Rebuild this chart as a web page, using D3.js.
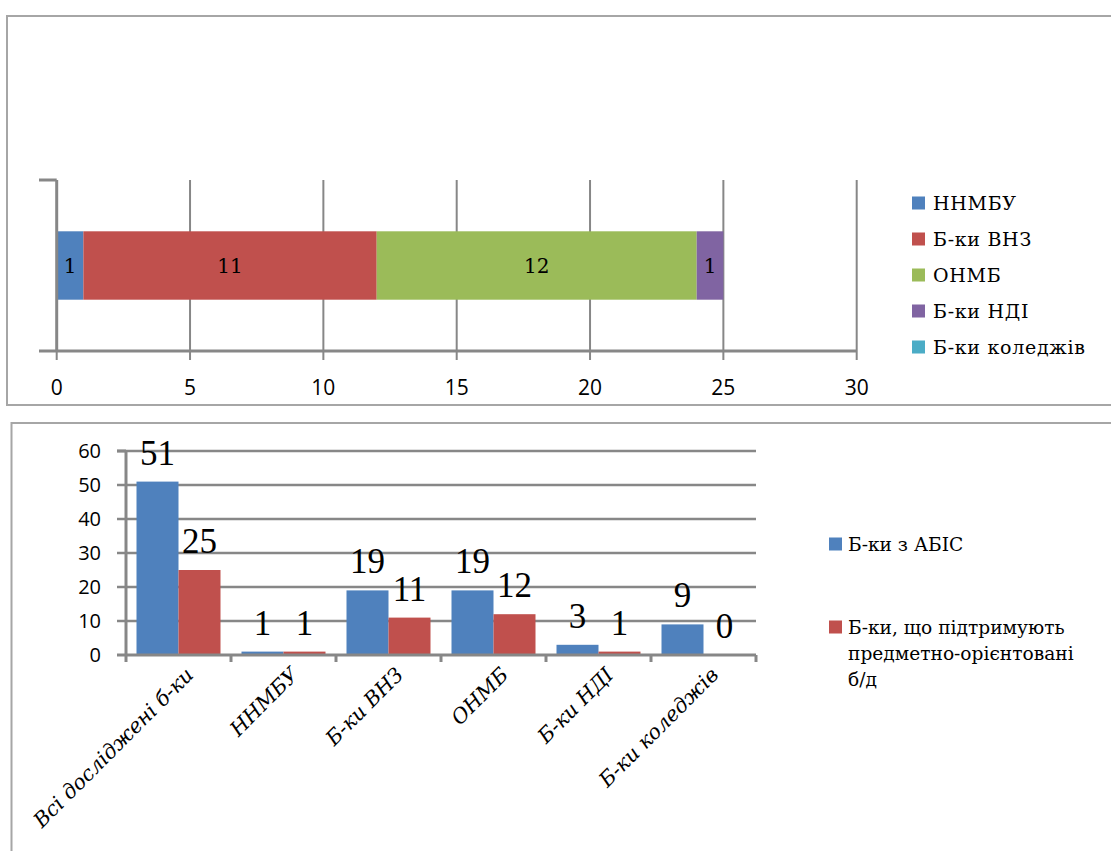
<!DOCTYPE html>
<html><head><meta charset="utf-8">
<script src="https://cdn.jsdelivr.net/npm/d3@7"></script>
<style>body{margin:0;background:#fff}svg{display:block}</style>
</head><body>
<svg id="c" width="1111" height="851"></svg>
<script>
// ---- data ----
const topSeries = ["ННМБУ", "Б-ки ВНЗ", "ОНМБ", "Б-ки НДІ", "Б-ки коледжів"];
const topValues = [1, 11, 12, 1, 0];
const topTicks = [0, 5, 10, 15, 20, 25, 30];

const categories = ["Всі досліджені б-ки", "ННМБУ", "Б-ки ВНЗ", "ОНМБ", "Б-ки НДІ", "Б-ки коледжів"];
const abisValues = [51, 1, 19, 19, 3, 9];
const subjectValues = [25, 1, 11, 12, 1, 0];
const bottomSeries = ["Б-ки з АБІС", "Б-ки, що підтримують предметно-орієнтовані б/д"];
const bottomLegendLines = [["Б-ки з АБІС"], ["Б-ки, що підтримують", "предметно-орієнтовані", "б/д"]];
const yTicks = [0, 10, 20, 30, 40, 50, 60];

// ---- styles ----
const palette = ["#4F81BD", "#C0504D", "#9BBB59", "#8064A2", "#4BACC6"];
const gridCol = "#878787";
const serif = "'DejaVu Serif', serif";
const sans = "'Open Sans', sans-serif";

const svg = d3.select("#c");

// ================= TOP CHART =================
svg.append("rect").attr("x", 7).attr("y", 16).attr("width", 1200).attr("height", 389)
  .attr("fill", "none").attr("stroke", "#a6a6a6").attr("stroke-width", 2);

const xT = d3.scaleLinear().domain([0, 30]).range([56.7, 856.7]);
const yT = d3.scaleBand().domain([""]).range([180, 351]).paddingInner(0.6).paddingOuter(0.3);
const gTop = svg.append("g");

// vertical gridlines + tick marks
gTop.selectAll("line.vg").data(topTicks.filter(d => d > 0)).join("line")
  .attr("x1", d => xT(d)).attr("x2", d => xT(d)).attr("y1", 180).attr("y2", 360)
  .attr("stroke", gridCol).attr("stroke-width", 2);
gTop.append("line").attr("x1", xT(0)).attr("x2", xT(0)).attr("y1", 351).attr("y2", 360)
  .attr("stroke", gridCol).attr("stroke-width", 2);

// stacked bars
const stackData = [Object.fromEntries(topSeries.map((s, i) => [s, topValues[i]]))];
const stacked = d3.stack().keys(topSeries)(stackData);
gTop.selectAll("rect.seg").data(stacked).join("rect")
  .attr("x", d => xT(d[0][0])).attr("width", d => xT(d[0][1]) - xT(d[0][0]))
  .attr("y", yT("")).attr("height", yT.bandwidth())
  .attr("fill", (d, i) => palette[i]);
gTop.selectAll("text.seg").data(stacked.filter(d => d[0][1] - d[0][0] > 0)).join("text")
  .attr("x", d => (xT(d[0][0]) + xT(d[0][1])) / 2).attr("y", yT("") + yT.bandwidth() / 2)
  .attr("dy", "0.36em").attr("text-anchor", "middle")
  .attr("font-family", serif).attr("font-size", 20).attr("fill", "#000")
  .text(d => d[0][1] - d[0][0]);

// axes lines
gTop.append("line").attr("x1", xT(0)).attr("x2", xT(0)).attr("y1", 180).attr("y2", 351)
  .attr("stroke", gridCol).attr("stroke-width", 3);
gTop.append("line").attr("x1", 39).attr("x2", xT(0)).attr("y1", 180).attr("y2", 180)
  .attr("stroke", gridCol).attr("stroke-width", 3);
gTop.append("line").attr("x1", 39).attr("x2", xT(30)).attr("y1", 351).attr("y2", 351)
  .attr("stroke", gridCol).attr("stroke-width", 3);

// x tick labels
gTop.selectAll("text.xt").data(topTicks).join("text")
  .attr("x", d => xT(d)).attr("y", 395).attr("text-anchor", "middle")
  .attr("font-family", sans).attr("font-size", 21).attr("fill", "#000")
  .text(d => d);

// legend
const legT = gTop.selectAll("g.leg").data(topSeries).join("g")
  .attr("transform", (d, i) => `translate(912, ${203 + i * 36})`);
legT.append("rect").attr("x", 0).attr("y", -6.5).attr("width", 13).attr("height", 13)
  .attr("fill", (d, i) => palette[i]);
legT.append("text").attr("x", 21).attr("dy", "0.36em")
  .attr("font-family", serif).attr("font-size", 19).attr("letter-spacing", 0.7).attr("fill", "#000")
  .text(d => d);

// ================= BOTTOM CHART =================
svg.append("rect").attr("x", 11.5).attr("y", 423).attr("width", 1200).attr("height", 500)
  .attr("fill", "none").attr("stroke", "#a6a6a6").attr("stroke-width", 2);

const gB = svg.append("g");
const xB = d3.scaleBand().domain(categories).range([126, 756]).padding(0);
const xSub = d3.scaleBand().domain([0, 1]).range([0, xB.bandwidth()]).paddingInner(0).paddingOuter(0.25);
const yB = d3.scaleLinear().domain([0, 60]).range([655, 451]);

// horizontal gridlines
gB.selectAll("line.hg").data(yTicks.filter(d => d > 0)).join("line")
  .attr("x1", 117).attr("x2", 756).attr("y1", d => yB(d)).attr("y2", d => yB(d))
  .attr("stroke", gridCol).attr("stroke-width", 2.5);

// bars
const seriesVals = [abisValues, subjectValues];
const barData = [];
categories.forEach((c, ci) => seriesVals.forEach((vals, si) => barData.push({ c, si, v: vals[ci] })));
gB.selectAll("rect.bar").data(barData).join("rect")
  .attr("x", d => xB(d.c) + xSub(d.si)).attr("width", xSub.bandwidth())
  .attr("y", d => yB(d.v)).attr("height", d => yB(0) - yB(d.v))
  .attr("fill", d => palette[d.si]);
gB.selectAll("text.val").data(barData).join("text")
  .attr("x", d => xB(d.c) + xSub(d.si) + xSub.bandwidth() / 2)
  .attr("y", d => yB(d.v) - 17).attr("text-anchor", "middle")
  .attr("font-family", "'Liberation Serif', serif").attr("font-size", 35).attr("fill", "#000")
  .text(d => d.v);

// axes
gB.append("line").attr("x1", 126).attr("x2", 126).attr("y1", yB(60)).attr("y2", yB(0))
  .attr("stroke", gridCol).attr("stroke-width", 3);
gB.append("line").attr("x1", 117).attr("x2", 756).attr("y1", yB(0)).attr("y2", yB(0))
  .attr("stroke", gridCol).attr("stroke-width", 3);
gB.selectAll("line.ct").data(categories.map((c) => xB(c)).concat([756])).join("line")
  .attr("x1", d => d).attr("x2", d => d).attr("y1", yB(0)).attr("y2", yB(0) + 7)
  .attr("stroke", gridCol).attr("stroke-width", 3);
gB.append("line").attr("x1", 117).attr("x2", 126).attr("y1", yB(60)).attr("y2", yB(60))
  .attr("stroke", gridCol).attr("stroke-width", 3);

// y tick labels
gB.selectAll("text.yt").data(yTicks).join("text")
  .attr("x", 101).attr("y", d => yB(d)).attr("dy", "0.36em").attr("text-anchor", "end")
  .attr("font-family", sans).attr("font-size", 20).attr("fill", "#000")
  .text(d => d);

// category labels (rotated)
gB.selectAll("text.cat").data(categories).join("text")
  .attr("transform", d => `translate(${xB(d) + xB.bandwidth() / 2 + 6}, 666) rotate(-45)`)
  .attr("dy", "0.7em").attr("text-anchor", "end")
  .attr("font-family", serif).attr("font-style", "italic").attr("font-size", 20.5).attr("fill", "#000")
  .text(d => d);

// legend
const legB = gB.selectAll("g.legb").data(bottomLegendLines).join("g")
  .attr("transform", (d, i) => `translate(829, ${i === 0 ? 544 : 627})`);
legB.append("rect").attr("x", 0).attr("y", -6.5).attr("width", 13).attr("height", 13)
  .attr("fill", (d, i) => palette[i]);
legB.each(function (lines) {
  const t = d3.select(this).append("text").attr("font-family", serif).attr("font-size", 18.6).attr("fill", "#000");
  lines.forEach((ln, k) => t.append("tspan").attr("x", 19).attr("y", k * 26).attr("dy", "0.36em").text(ln));
});
</script>
</body></html>
